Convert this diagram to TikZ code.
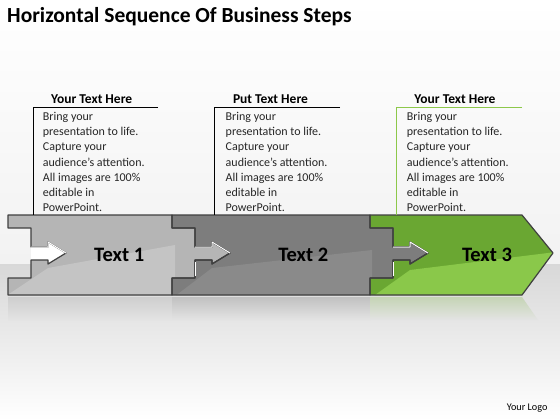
\documentclass[tikz,border=0pt]{standalone}
\usepackage{fontspec}
\setmainfont{Carlito}
\definecolor{segAtop}{HTML}{B5B5B5}
\definecolor{segAlow}{HTML}{C4C4C4}
\definecolor{segBtop}{HTML}{7D7D7D}
\definecolor{segBlow}{HTML}{8A8A8A}
\definecolor{segCtop}{HTML}{6AA732}
\definecolor{segClow}{HTML}{8AC84A}
\definecolor{outl}{HTML}{404040}
\definecolor{boxgreen}{HTML}{8DC84A}
\definecolor{floorgray}{HTML}{D8D8D8}
\definecolor{topgray}{HTML}{F2F2F2}
\def\downB{-- ++(0,13) -- ++(23,0) -- ++(0,19) -- ++(17,0) -- ++(0,-5) -- ++(18,11) -- ++(-18,11) -- ++(0,-4) -- ++(-17,0) -- ++(0,18) -- ++(-23,0) -- ++(0,17)}
\def\upB{-- ++(0,-17) -- ++(23,0) -- ++(0,-18) -- ++(17,0) -- ++(0,4) -- ++(18,-11) -- ++(-18,-11) -- ++(0,5) -- ++(-17,0) -- ++(0,-19) -- ++(-23,0) -- ++(0,-13)}
\def\segApath{(8,215) -- (172,215) \downB -- (8,295) \upB -- cycle}
\def\segBpath{(172,215) -- (370,215) \downB -- (172,295) \upB -- cycle}
\def\segCpath{(370,215) -- (522,215) -- (553,253) -- (522,295) -- (370,295) \upB -- cycle}
\begin{document}
\begin{tikzpicture}[x=1pt,y=-1pt,
  body/.style={inner sep=0pt, anchor=north west, align=left, font=\fontsize{12}{15.2}\selectfont, text=black!85},
  boxtitle/.style={inner sep=0pt, anchor=base, font=\fontsize{13.5}{16}\selectfont\bfseries},
  steplabel/.style={inner sep=0pt, font=\fontsize{20.5}{24}\selectfont\bfseries},
  segline/.style={draw=outl, line width=1.2pt, line join=round},
  hilite/.style={draw=white, line width=1pt, line join=round}]
\useasboundingbox (0,0) rectangle (560,420);
% background
\shade[top color=white, bottom color=topgray] (0,0) rectangle (560,264);
\shade[top color=floorgray, bottom color=white] (0,264) rectangle (560,420);
% reflections
\shade[top color=segAlow!50!floorgray, bottom color=floorgray!70!white] (8,297) rectangle (172,320);
\shade[top color=segBlow!30!floorgray, bottom color=floorgray!70!white] (172,297) rectangle (370,320);
\shade[top color=segClow!25!floorgray, bottom color=floorgray!70!white] (370,297) -- (522,297) -- (538,320) -- (370,320) -- cycle;
% white arrow in first notch
\fill[white] (31,247) -- (48,247) -- (48,242) -- (66,253) -- (48,264) -- (48,260) -- (31,260) -- cycle;
% segments
\fill[segAtop] \segApath;
\begin{scope}
  \clip \segApath;
  \fill[segAlow] (48,268) -- (175,245) -- (175,300) -- (0,300) -- cycle;
\end{scope}
\fill[segBtop] \segBpath;
\begin{scope}
  \clip \segBpath;
  \fill[segBlow] (212,268) -- (372,250) -- (372,300) -- (170,300) -- cycle;
\end{scope}
\fill[segCtop] \segCpath;
\begin{scope}
  \clip \segCpath;
  \fill[segClow] (410,270) -- (556,252) -- (556,300) -- (368,300) -- cycle;
\end{scope}
\draw[segline] \segApath;
\draw[segline] \segBpath;
\draw[segline] \segCpath;
% highlights on arrow tabs
\draw[hilite] (31,247) -- (48,247) -- (48,242) -- (66,253);
\draw[hilite] (195,247) -- (212,247) -- (212,242) -- (230,253);
\draw[hilite] (393,247) -- (410,247) -- (410,242) -- (428,253);
\draw[hilite] (195,262) -- (195,276);
\draw[hilite] (393,262) -- (393,276);
% step labels
\node[steplabel] (t1) at (119.2,255) {Text 1};
\node[steplabel] (t2) at (303.3,255) {Text 2};
\node[steplabel] (t3) at (487,255) {Text 3};
% text boxes
\draw[black, line width=0.9pt] (158,107) -- (33,107) -- (33,215);
\draw[black, line width=0.9pt] (340,107) -- (214,107) -- (214,215);
\draw[boxgreen, line width=0.9pt] (522,107) -- (396,107) -- (396,215);
\node[boxtitle] (h1) at (91.7,103) {Your Text Here};
\node[boxtitle] (h2) at (270.5,103) {Put Text Here};
\node[boxtitle] (h3) at (455,103) {Your Text Here};
\node[body] (b1) at (42.7,112) {Bring your\\presentation to life.\\Capture your\\audience’s attention.\\All images are 100\%\\editable in\\PowerPoint.};
\node[body] (b2) at (225.5,112) {Bring your\\presentation to life.\\Capture your\\audience’s attention.\\All images are 100\%\\editable in\\PowerPoint.};
\node[body] (b3) at (406.7,112) {Bring your\\presentation to life.\\Capture your\\audience’s attention.\\All images are 100\%\\editable in\\PowerPoint.};
% title and logo
\node[inner sep=0pt, anchor=base west, font=\fontsize{21.5}{26}\selectfont\bfseries] (title) at (7,23) {Horizontal Sequence Of Business Steps};
\node[inner sep=0pt, anchor=base west, font=\fontsize{10.2}{12}\selectfont] (logo) at (506.7,410) {Your Logo};
\end{tikzpicture}
\end{document}
